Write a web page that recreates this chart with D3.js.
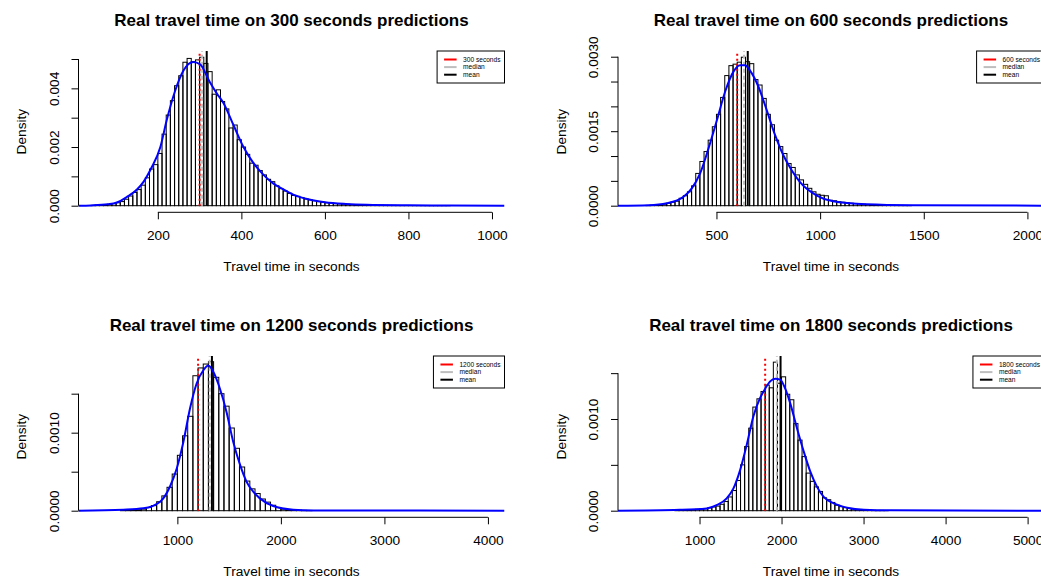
<!DOCTYPE html>
<html>
<head>
<meta charset="utf-8">
<script src="https://cdn.jsdelivr.net/npm/d3@7"></script>
<style>
  body { margin: 0; background: #fff; }
  text { font-family: "Liberation Sans", Arial, sans-serif; fill: #000; }
</style>
</head>
<body>
<svg id="chart" width="1041" height="579"></svg>
<script>
// densities are stored as density x 1000

// 300 s predictions: 10 s bins starting at 40
var hist300 = [0.01,0.02,0.02,0.03,0.05,0.07,0.1,0.14,0.22,0.33,
  0.45,0.55,0.7,0.95,1.25,1.4,1.78,2.44,3.09,3.58,
  4.09,4.43,4.89,5.02,4.91,4.97,5.06,4.85,4.57,3.8,
  3.95,3.55,3.3,2.65,2.75,2.25,2.0,1.75,1.45,1.38,
  1.2,1.05,0.9,0.82,0.68,0.58,0.5,0.42,0.35,0.32,
  0.28,0.23,0.2,0.17,0.14,0.12,0.1,0.09,0.07,0.06,
  0.05,0.05,0.04,0.03,0.03,0.02,0.02,0.02,0.015,0.015,
  0.01,0.01,0.01,0.008,0.006,0.005,0.005,0.004,0.004,0.003,
  0.003,0.003,0.002,0.002,0.002,0.002];
var curve300x = [10,40,80,100,126,150,166,185,206,221,241,261,285,301,325,341,357,381,405,429,453,476,500,524,560,600,650,700,800,900,1030];
var curve300y = [0,0.01,0.05,0.1,0.3,0.55,0.82,1.3,2.0,2.9,3.9,4.6,4.9,4.82,4.2,3.83,3.5,2.75,2.0,1.45,1.05,0.76,0.56,0.38,0.22,0.12,0.06,0.03,0.012,0.005,0.001];

// 600 s predictions: 20 s bins starting at 160
var hist600 = [0.005,0.01,0.015,0.02,0.03,0.05,0.07,0.09,0.15,0.2,
  0.28,0.4,0.65,0.89,1.09,1.32,1.59,1.84,2.18,2.62,
  2.82,2.85,2.89,2.99,2.9,2.86,2.54,2.43,2.16,1.84,
  1.63,1.32,1.19,1.05,0.85,0.77,0.62,0.52,0.43,0.35,
  0.28,0.23,0.21,0.2,0.11,0.1,0.08,0.07,0.06,0.05,
  0.045,0.04,0.03,0.025,0.02,0.018,0.015,0.012,0.01,0.01,
  0.008,0.006,0.005,0.004];
var curve600x = [25,173,261,341,381,421,462,502,542,582,614,638,662,702,742,782,822,862,902,982,1062,1223,1447,2080];
var curve600y = [0,0.01,0.05,0.18,0.35,0.65,1.16,1.72,2.3,2.7,2.83,2.83,2.72,2.4,1.93,1.43,1.02,0.72,0.48,0.21,0.09,0.03,0.01,0];

// 1200 s predictions: 50 s bins starting at 450
var hist1200 = [0.004,0.005,0.008,0.012,0.02,0.04,0.065,0.115,0.19,0.3,
  0.47,0.71,0.96,1.21,1.73,1.83,1.88,1.91,1.71,1.5,
  1.34,1.06,0.8,0.56,0.38,0.28,0.22,0.15,0.11,0.07,
  0.04,0.02,0.013,0.01,0.006,0.004,0.003];
var curve1200x = [45,479,672,833,929,994,1058,1122,1186,1251,1299,1347,1412,1476,1540,1605,1669,1733,1797,1926,2119,2312,4160];
var curve1200y = [0,0.013,0.03,0.115,0.31,0.54,0.88,1.31,1.63,1.8,1.86,1.78,1.56,1.26,0.88,0.59,0.37,0.244,0.158,0.06,0.013,0.004,0];

// 1800 s predictions: 50 s bins starting at 700
var hist1800 = [0.003,0.005,0.007,0.01,0.012,0.015,0.018,0.02,0.03,0.04,
  0.05,0.07,0.1,0.15,0.22,0.33,0.5,0.7,0.9,1.13,
  1.22,1.3,1.37,1.34,1.62,1.39,1.46,1.27,1.21,0.95,
  0.77,0.59,0.41,0.32,0.26,0.21,0.14,0.12,0.09,0.06,
  0.044,0.033,0.025,0.018,0.012,0.01,0.008,0.006,0.004,0.003,
  0.003,0.002];
var curve1800x = [6,759,1086,1208,1331,1412,1494,1576,1657,1739,1800,1861,1922,1984,2045,2106,2188,2269,2351,2433,2514,2637,2800,3004,3331,5200];
var curve1800y = [0,0.01,0.025,0.06,0.135,0.24,0.44,0.72,1.03,1.23,1.33,1.41,1.44,1.43,1.33,1.17,0.9,0.65,0.425,0.26,0.15,0.08,0.033,0.01,0.004,0];

// reference lines: prediction, median, mean
var predictions = [300, 600, 1200, 1800];
var medians = [306, 633, 1312, 1943];
var means = [317, 651, 1334, 1988];

// tick values and labels
var xTicks300 = [200, 400, 600, 800, 1000];
var xTicks600 = [500, 1000, 1500, 2000];
var xTicks1200 = [1000, 2000, 3000, 4000];
var xTicks1800 = [1000, 2000, 3000, 4000, 5000];
var yTicks300 = [0, 1, 2, 3, 4, 5];
var yLabels300 = ["0.000", "", "0.002", "", "0.004", ""];
var yTicks600 = [0, 0.5, 1, 1.5, 2, 2.5, 3];
var yLabels600 = ["0.0000", "", "", "0.0015", "", "", "0.0030"];
var yTicks1200 = [0, 0.5, 1, 1.5];
var yLabels1200 = ["0.0000", "", "0.0010", ""];
var yTicks1800 = [0, 0.5, 1, 1.5];
var yLabels1800 = ["0.0000", "", "0.0010", ""];

var plotW = 426, plotH = 161.3;

var panels = [
  {hist: hist300, binStart: 40, binWidth: 10, cx: curve300x, cy: curve300y,
   xDomain: [10, 1030], yDomain: [-0.225, 5.273], xTicks: xTicks300, yTicks: yTicks300, yLabels: yLabels300,
   left: 78.5, top: 51},
  {hist: hist600, binStart: 160, binWidth: 20, cx: curve600x, cy: curve600y,
   xDomain: [25, 2080], yDomain: [-0.133, 3.115], xTicks: xTicks600, yTicks: yTicks600, yLabels: yLabels600,
   left: 618, top: 51},
  {hist: hist1200, binStart: 450, binWidth: 50, cx: curve1200x, cy: curve1200y,
   xDomain: [45, 4160], yDomain: [-0.0846, 1.983], xTicks: xTicks1200, yTicks: yTicks1200, yLabels: yLabels1200,
   left: 78.5, top: 356},
  {hist: hist1800, binStart: 700, binWidth: 50, cx: curve1800x, cy: curve1800y,
   xDomain: [6, 5200], yDomain: [-0.072, 1.687], xTicks: xTicks1800, yTicks: yTicks1800, yLabels: yLabels1800,
   left: 618, top: 356}
];

var svg = d3.select("#chart");
var defs = svg.append("defs");

panels.forEach(function(p, k) {
    var x = d3.scaleLinear().domain(p.xDomain).range([p.left, p.left + plotW]);
    var y = d3.scaleLinear().domain(p.yDomain).range([p.top + plotH, p.top]);
    var bottom = p.top + plotH;

    defs.append("clipPath").attr("id", "clip" + k)
        .append("rect")
        .attr("x", p.left).attr("y", p.top)
        .attr("width", plotW).attr("height", plotH);

    var plot = svg.append("g").attr("clip-path", "url(#clip" + k + ")");

    // histogram bars
    plot.selectAll("rect")
        .data(p.hist)
        .enter()
        .append("rect")
        .attr("x", (d, i) => x(p.binStart + i * p.binWidth))
        .attr("width", (d, i) => x(p.binStart + (i + 1) * p.binWidth) - x(p.binStart + i * p.binWidth))
        .attr("y", d => y(d))
        .attr("height", d => y(0) - y(d))
        .attr("fill", "none")
        .attr("stroke", "#000")
        .attr("stroke-width", 1);

    // reference lines
    plot.append("line")
        .attr("x1", x(predictions[k])).attr("x2", x(predictions[k]))
        .attr("y1", y(0)).attr("y2", p.top)
        .attr("stroke", "#ff0000").attr("stroke-width", 2)
        .attr("stroke-dasharray", "2,3");
    plot.append("line")
        .attr("x1", x(medians[k])).attr("x2", x(medians[k]))
        .attr("y1", y(0)).attr("y2", p.top)
        .attr("stroke", "#bebebe").attr("stroke-width", 2)
        .attr("stroke-dasharray", "4,3");
    plot.append("line")
        .attr("x1", x(means[k])).attr("x2", x(means[k]))
        .attr("y1", y(0)).attr("y2", p.top)
        .attr("stroke", "#000").attr("stroke-width", 2);

    // density curve
    var line = d3.line()
        .x(d => x(d[0]))
        .y(d => y(d[1]))
        .curve(d3.curveMonotoneX);
    plot.append("path")
        .datum(d3.zip(p.cx, p.cy))
        .attr("d", line)
        .attr("fill", "none")
        .attr("stroke", "#0000ff")
        .attr("stroke-width", 2);

    // x axis
    var xa = svg.append("g")
        .attr("transform", "translate(0," + bottom + ")")
        .call(d3.axisBottom(x).tickValues(p.xTicks).tickSize(7).tickPadding(11).tickFormat(d3.format("d")));
    xa.select(".domain").remove();
    xa.append("line")
        .attr("x1", x(p.xTicks[0])).attr("x2", x(p.xTicks[p.xTicks.length - 1]))
        .attr("stroke", "#000");
    xa.selectAll(".tick line").attr("stroke", "#000");
    xa.selectAll("text").style("font-size", "13.7px").attr("fill", "#000");

    // y axis
    var ya = svg.append("g")
        .attr("transform", "translate(" + p.left + ",0)")
        .call(d3.axisLeft(y).tickValues(p.yTicks).tickSize(7).tickFormat((d, i) => p.yLabels[i]));
    ya.select(".domain").remove();
    ya.append("line")
        .attr("y1", y(p.yTicks[0])).attr("y2", y(p.yTicks[p.yTicks.length - 1]))
        .attr("stroke", "#000");
    ya.selectAll(".tick line").attr("stroke", "#000");
    ya.selectAll("text")
        .attr("transform", "rotate(-90)")
        .attr("x", 0)
        .attr("y", -24.7)
        .attr("dy", "0.35em")
        .attr("text-anchor", "middle")
        .attr("fill", "#000")
        .style("font-size", "13.7px");

    // titles and axis labels
    svg.append("text")
        .attr("x", p.left + plotW / 2)
        .attr("y", p.top - 25)
        .attr("text-anchor", "middle")
        .style("font-size", "17px")
        .style("font-weight", "bold")
        .text("Real travel time on " + predictions[k] + " seconds predictions");

    svg.append("text")
        .attr("x", p.left + plotW / 2)
        .attr("y", bottom + 54.4)
        .attr("dy", "0.35em")
        .attr("text-anchor", "middle")
        .style("font-size", "13.7px")
        .text("Travel time in seconds");

    svg.append("text")
        .attr("transform", "translate(" + (p.left - 57) + "," + (p.top + plotH / 2) + ") rotate(-90)")
        .attr("dy", "0.35em")
        .attr("text-anchor", "middle")
        .style("font-size", "13.7px")
        .text("Density");

    // legend
    var items = [
        {label: predictions[k] + " seconds", color: "#ff0000"},
        {label: "median", color: "#bebebe"},
        {label: "mean", color: "#000"}
    ];
    var legend = svg.append("g");
    var box = legend.append("rect")
        .attr("y", p.top)
        .attr("height", 32)
        .attr("fill", "#fff")
        .attr("stroke", "#000")
        .attr("stroke-width", 1);
    var labels = legend.selectAll("text")
        .data(items)
        .enter()
        .append("text")
        .attr("y", (d, i) => p.top + 8.5 + i * 7.6)
        .attr("dy", "0.35em")
        .style("font-size", "6.6px")
        .text(d => d.label);
    var textW = d3.max(labels.nodes(), n => n.getComputedTextLength());
    var boxW = textW + 30;
    var boxX = p.left + plotW - boxW;
    box.attr("x", boxX).attr("width", boxW);
    labels.attr("x", boxX + 26);
    legend.selectAll("line")
        .data(items)
        .enter()
        .append("line")
        .attr("x1", boxX + 7).attr("x2", boxX + 19.5)
        .attr("y1", (d, i) => p.top + 8.5 + i * 7.6)
        .attr("y2", (d, i) => p.top + 8.5 + i * 7.6)
        .attr("stroke", d => d.color)
        .attr("stroke-width", 2);
});
</script>
</body>
</html>
